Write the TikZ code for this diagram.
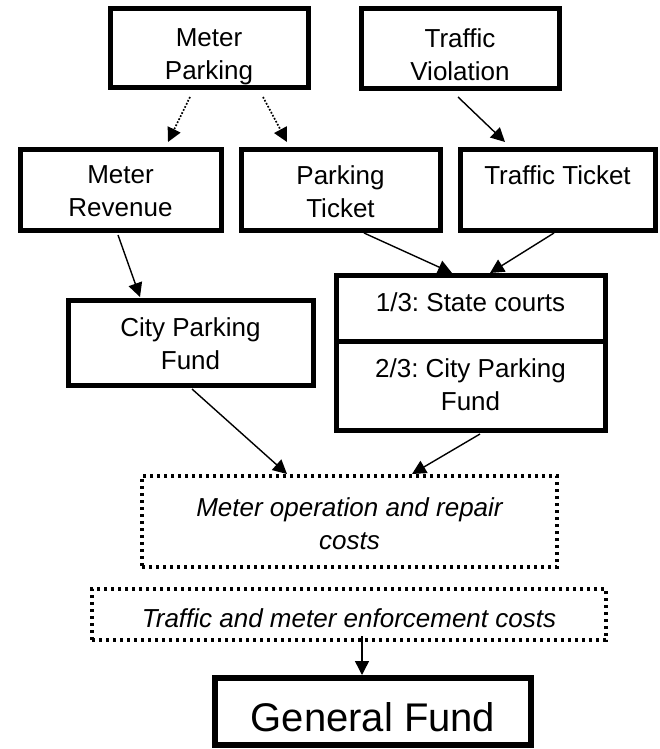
\documentclass[tikz,border=0pt]{standalone}
\usepackage{fontspec}
\setmainfont{Liberation Sans}
\usetikzlibrary{arrows.meta}
\frenchspacing
\begin{document}
\begin{tikzpicture}[x=1pt,y=-1pt,
  box/.style={draw, line width=5pt, outer sep=0pt, inner sep=0pt},
  bigbox/.style={draw, line width=6.5pt, outer sep=0pt, inner sep=0pt},
  dotbox/.style={draw, line width=3.3pt, dash pattern=on 3.3pt off 3.7pt, outer sep=0pt, inner sep=0pt},
  txt/.style={font=\fontsize{26}{33}\selectfont, align=center, inner sep=0pt, anchor=north},
  itxt/.style={txt, font=\fontsize{26}{33}\selectfont\itshape},
  arr/.style={line width=1.4pt, -{Triangle[length=14pt,width=14pt]}},
  darr/.style={arr, line width=1.7pt, dash pattern=on 1.7pt off 1.7pt}
]
\useasboundingbox (0,0) rectangle (659,749);

% boxes
\node[box, minimum width=198pt, minimum height=79pt] (mp) at (209,48.5) {};
\node[box, minimum width=198pt, minimum height=80pt] (tv) at (460,49) {};
\node[box, minimum width=201pt, minimum height=81pt] (mr) at (120.5,189.5) {};
\node[box, minimum width=199pt, minimum height=81pt] (pt) at (340.5,189.5) {};
\node[box, minimum width=195pt, minimum height=81pt] (tt) at (557.5,189.5) {};
\node[box, minimum width=245pt, minimum height=85pt] (cpf) at (190.5,342.5) {};
\node[box, minimum width=269pt, minimum height=66pt] (sc) at (470.5,308) {};
\node[box, minimum width=269pt, minimum height=89pt] (cp2) at (470.5,385.5) {};
\node[dotbox, minimum width=415pt, minimum height=91pt] (mo) at (349.5,521.5) {};
\node[dotbox, minimum width=514pt, minimum height=51pt] (te) at (349,614.5) {};
\node[bigbox, minimum width=316pt, minimum height=67pt] (gf) at (373,711.5) {};

% texts
\node[txt] (mp-t) at (209,28) {Meter\\Parking};
\node[txt] (tv-t) at (460,28) {Traffic\\Violation};
\node[txt] (mr-t) at (120.5,165) {Meter\\Revenue};
\node[txt] (pt-t) at (340.5,165) {Parking\\Ticket};
\node[txt] (tt-t) at (557.5,165) {Traffic Ticket};
\node[txt] (cpf-t) at (190.5,317) {City Parking\\Fund};
\node[txt] (sc-t) at (470.5,292) {1/3: State courts};
\node[txt] (cp2-t) at (470.5,358) {2/3: City Parking\\Fund};
\node[itxt] (mo-t) at (349.5,497) {Meter operation and repair\\costs};
\node[itxt] (te-t) at (349,608) {Traffic and meter enforcement costs};
\node[txt, font=\fontsize{40}{48}\selectfont] (gf-t) at (373,702) {General Fund};

% connectors
\draw[darr] ([xshift=-19pt,yshift=-9pt]mp.south) -- ([xshift=47.5pt,yshift=7pt]mr.north);
\draw[darr] ([xshift=54pt,yshift=-9pt]mp.south) -- ([xshift=-53.5pt,yshift=7pt]pt.north);
\draw[arr] ([xshift=-2pt,yshift=-8pt]tv.south) -- ([xshift=-52.5pt,yshift=7pt]tt.north);
\draw[arr] ([xshift=-2.5pt,yshift=-5pt]mr.south) -- ([xshift=-50.5pt,yshift=3pt]cpf.north);
\draw[arr] ([xshift=23.5pt,yshift=-3pt]pt.south) -- ([xshift=-18.5pt,yshift=2pt]sc.north);
\draw[arr] ([xshift=-3.5pt,yshift=-3pt]tt.south) -- ([xshift=19.5pt,yshift=2pt]sc.north);
\draw[arr] ([xshift=1.5pt,yshift=-4pt]cpf.south) -- ([xshift=-62.5pt,yshift=2pt]mo.north);
\draw[arr] ([xshift=9.5pt,yshift=-4pt]cp2.south) -- ([xshift=62.5pt,yshift=2pt]mo.north);
\draw[arr] ([xshift=13pt,yshift=4pt]te.south) -- ([xshift=-11pt,yshift=3pt]gf.north);
\end{tikzpicture}
\end{document}
